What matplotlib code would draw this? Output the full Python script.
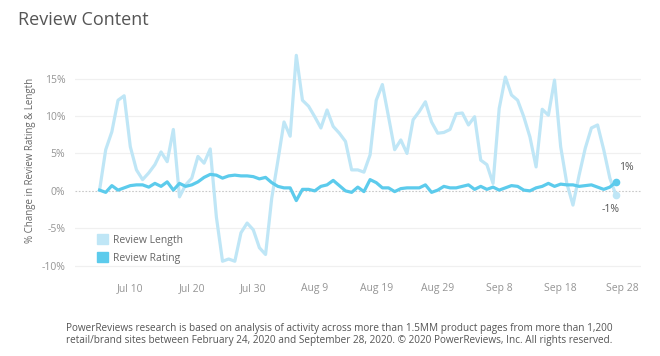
import matplotlib.pyplot as plt
import matplotlib.dates as mdates
from matplotlib.patches import Patch
import datetime

# daily % change, Jul 5 .. Sep 27 2020
review_length = [
    0.1, 5.5, 7.9, 12.1, 12.7, 5.9, 2.8, 1.5, 2.4, 3.5,
    5.2, 3.9, 8.2, -0.8, 0.8, 1.7, 4.6, 3.7, 5.6, -3.5,
    -9.4, -9.1, -9.4, -5.6, -4.3, -5.2, -7.6, -8.5, -1.0, 4.0,
    9.2, 7.3, 18.1, 12.1, 11.3, 9.9, 8.4, 10.8, 8.6, 7.7,
    6.6, 2.8, 2.8, 2.5, 4.8, 12.1, 14.2, 9.9, 5.5, 6.8,
    5.0, 9.5, 10.6, 11.9, 9.2, 7.7, 7.8, 8.2, 10.3, 10.4,
    8.8, 9.9, 4.1, 3.5, 1.0, 11.0, 15.2, 12.8, 12.1, 9.9,
    7.2, 3.2, 10.9, 10.1, 14.8, 5.9, 1.0, -1.9, 2.1, 5.7,
    8.4, 8.8, 5.5, 1.7, -0.6,
]
review_rating = [
    0.1, -0.2, 0.7, 0.1, 0.4, 0.7, 0.8, 0.8, 0.5, 1.0,
    0.6, 1.2, 0.1, 1.0, 0.6, 0.8, 1.2, 1.8, 2.2, 2.1,
    1.7, 2.0, 2.1, 2.0, 2.0, 1.9, 1.6, 1.8, 1.1, 0.6,
    0.4, 0.4, -1.3, 0.2, 0.2, 0.0, 0.6, 0.8, 1.4, 0.7,
    0.0, -0.2, 0.5, -0.1, 1.5, 1.1, 0.4, 0.4, -0.1, 0.3,
    0.4, 0.4, 0.4, 0.8, -0.2, 0.1, 0.6, 0.4, 0.4, 0.6,
    0.8, 0.2, 0.6, 0.2, 0.5, 0.1, 0.4, 0.7, 0.6, 0.1,
    0.0, 0.4, 0.6, 1.0, 0.6, 0.9, 0.8, 0.8, 0.6, 0.7,
    0.8, 0.5, 0.2, 0.5, 1.2,
]
start = datetime.date(2020, 7, 5)
dates = [start + datetime.timedelta(days=i) for i in range(len(review_length))]

tick_dates = [datetime.date(2020, 7, 10) + datetime.timedelta(days=10 * i) for i in range(9)]
y_ticks = [-10, -5, 0, 5, 10, 15]

footnote = ("PowerReviews research is based on analysis of activity across more than 1.5MM product pages from more than 1,200\n"
            "retail/brand sites between February 24, 2020 and September 28, 2020. \u00a9 2020 PowerReviews, Inc. All rights reserved.")

length_color = '#bfe6f6'
rating_color = '#5ccbec'
text_gray = '#959595'

plt.rcParams['font.family'] = ['Open Sans', 'DejaVu Sans']

fig = plt.figure(figsize=(6.6, 3.56), dpi=100)
ax = fig.add_axes([0.1136, 0.222, 0.857, 0.652])

for y in y_ticks:
    if y == 0:
        ax.axhline(0, color='#c8c8c8', lw=0.8, ls=(0, (1.5, 1.5)), zorder=0)
    else:
        ax.axhline(y, color='#f0f0f0', lw=0.9, zorder=0)

ax.plot(dates, review_length, color=length_color, lw=2.3, solid_joinstyle='round')
ax.plot(dates, review_rating, color=rating_color, lw=2.3, solid_joinstyle='round')
ax.plot(dates[-1], review_rating[-1], 'o', color=rating_color, ms=4.5)
ax.plot(dates[-1], review_length[-1], 'o', color=length_color, ms=4.5)

ax.annotate('1%', (dates[-1], review_rating[-1]), xytext=(2, 10), textcoords='offset points',
            ha='left', va='center', fontsize=7.5, color='#555555')
ax.annotate('-1%', (dates[-1], review_length[-1]), xytext=(-4, -10), textcoords='offset points',
            ha='center', va='center', fontsize=7.5, color='#555555')

ax.set_xlim(start - datetime.timedelta(days=4.8), start + datetime.timedelta(days=88.3))
ax.set_ylim(-11.5, 19.5)
ax.set_yticks(y_ticks)
ax.set_yticklabels([f'{v}%' for v in y_ticks])
ax.set_xticks(tick_dates)
ax.xaxis.set_major_formatter(mdates.DateFormatter('%b %-d'))
ax.tick_params(length=0, labelsize=7.5, colors=text_gray)
ax.tick_params(axis='x', pad=4.5)
ax.tick_params(axis='y', pad=7)
for s in ax.spines.values():
    s.set_visible(False)

ax.set_ylabel('% Change in Review Rating & Length', fontsize=7, color='#666666', labelpad=4)

handles = [Patch(color=length_color, label='Review Length'),
           Patch(color=rating_color, label='Review Rating')]
ax.legend(handles=handles, loc='lower left', bbox_to_anchor=(0.022, 0.016), frameon=False,
          fontsize=7.5, handlelength=1.1, handleheight=1.1, handletextpad=0.45,
          labelspacing=0.62, labelcolor='#666666', borderpad=0.4)

fig.text(0.027, 0.945, 'Review Content', fontsize=13, color='#555555', ha='left', va='center')
fig.text(0.514, 0.06, footnote, fontsize=7.2, color='#555555', ha='center', va='center', linespacing=1.05)

fig.savefig('out.png', dpi=100)
